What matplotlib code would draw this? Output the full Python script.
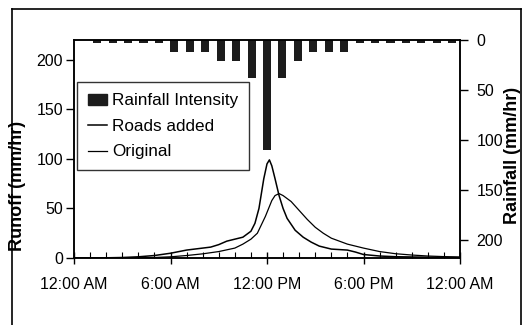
import matplotlib.pyplot as plt
import matplotlib.patches as mpatches
import numpy as np

plt.rcParams['font.family'] = ['Liberation Sans', 'DejaVu Sans']

# hourly rainfall intensity (mm/hr), bars 1..24 of a 25-slot category axis
rain = [3, 3, 3, 3, 3, 12, 12, 12, 21, 21, 38, 110,
        38, 21, 12, 12, 12, 3, 3, 3, 3, 3, 3, 3]

# runoff hydrographs (hours since midnight, mm/hr)
t_roads = [0, 2, 3, 4, 5, 6, 7, 8, 8.5, 9, 9.5, 10, 10.5, 11, 11.25, 11.5,
           11.8, 12.0, 12.15, 12.3, 12.5, 12.75, 13.0, 13.25, 13.75, 14.25,
           14.75, 15.25, 16, 17, 17.5, 18, 19, 20, 22, 24]
q_roads = [0, 0.2, 0.5, 1.2, 2.5, 4.8, 8, 10, 11, 13.5, 17, 19, 21, 27, 35, 50,
           80, 95, 99, 93, 80, 63, 50, 40, 28, 21,
           16, 12, 9, 8, 6, 3.5, 2, 1.3, 0.8, 0.5]

t_orig = [0, 3, 5, 6, 7, 8, 9, 10, 10.5, 11, 11.4, 11.9, 12.3, 12.5, 12.75,
          13.0, 13.5, 14, 14.5, 15, 15.5, 16, 17, 18, 19, 20, 21, 22, 23, 24]
q_orig = [0, 0.1, 0.5, 1.2, 2.5, 4.2, 6.5, 10, 14, 19, 25, 42, 58, 63, 65,
          63, 57, 48, 39, 31, 25, 20, 14, 10, 6.5, 4.3, 3, 2, 1.4, 1]

xticks = [0, 6, 12, 18, 24]
xticklabels = ['12:00 AM', '6:00 AM', '12:00 PM', '6:00 PM', '12:00 AM']

fig = plt.figure(figsize=(5.24, 3.25), dpi=100)
ax = fig.add_axes([74 / 524, 1 - 258 / 325, 386 / 524, 218 / 325])
ax2 = ax.twinx()

# bars sit on a 25-category axis spanning the day
n_cat = 25
bar_x = (np.arange(1, len(rain) + 1) + 0.5) * 24 / n_cat
ax2.bar(bar_x, rain, width=0.5, color='#1c1c1c', zorder=2)
ax2.set_ylim(218, 0)
ax2.set_yticks([0, 50, 100, 150, 200])

ax.plot(t_roads, q_roads, color='black', lw=1.1, label='Roads added', zorder=3)
ax.plot(t_orig, q_orig, color='black', lw=0.9, label='Original', zorder=3)
ax.set_xlim(0, 24)
ax.set_ylim(0, 220)
ax.set_yticks([0, 50, 100, 150, 200])
ax.set_xticks(xticks)
ax.set_xticklabels(xticklabels)
ax.set_xticks(range(25), minor=True)

ax.set_zorder(ax2.get_zorder() + 1)
ax.patch.set_visible(False)

fs = 11.5
ax.tick_params(axis='x', which='major', direction='inout', length=9, width=1,
               labelsize=fs, pad=9)
ax.tick_params(axis='x', which='minor', direction='in', length=4, width=0.8)
ax.tick_params(axis='y', direction='out', length=6, width=1, labelsize=fs, pad=2)
ax2.tick_params(axis='y', direction='out', length=6, width=1, labelsize=fs, pad=6)
for a in (ax, ax2):
    for s in a.spines.values():
        s.set_linewidth(1.1)

ax.set_ylabel('Runoff (mm/hr)', fontsize=13, fontweight='bold')
ax.yaxis.set_label_coords(-0.125, 0.33)
ax2.set_ylabel('Rainfall (mm/hr)', fontsize=13, fontweight='bold')
ax2.yaxis.set_label_coords(1.115, 0.47)

handles = [mpatches.Patch(color='#1c1c1c', label='Rainfall Intensity')]
handles += ax.get_legend_handles_labels()[0]
leg = ax.legend(handles=handles, loc='upper left', bbox_to_anchor=(0.008, 0.807),
                borderaxespad=0, fontsize=12.3, frameon=True, fancybox=False,
                edgecolor='black', handlelength=1.1, handleheight=0.6,
                handletextpad=0.3, labelspacing=0.62, borderpad=0.65)
leg.get_frame().set_linewidth(1.0)

# outer chart border
fig.add_artist(plt.Line2D([12 / 524, 12 / 524], [0, 1 - 9 / 325], color='black', lw=1.2))
fig.add_artist(plt.Line2D([12 / 524, 521 / 524], [1 - 9 / 325, 1 - 9 / 325], color='black', lw=1.2))
fig.add_artist(plt.Line2D([521 / 524, 521 / 524], [0, 1 - 9 / 325], color='black', lw=1.2))

fig.savefig('out.png', dpi=100)
